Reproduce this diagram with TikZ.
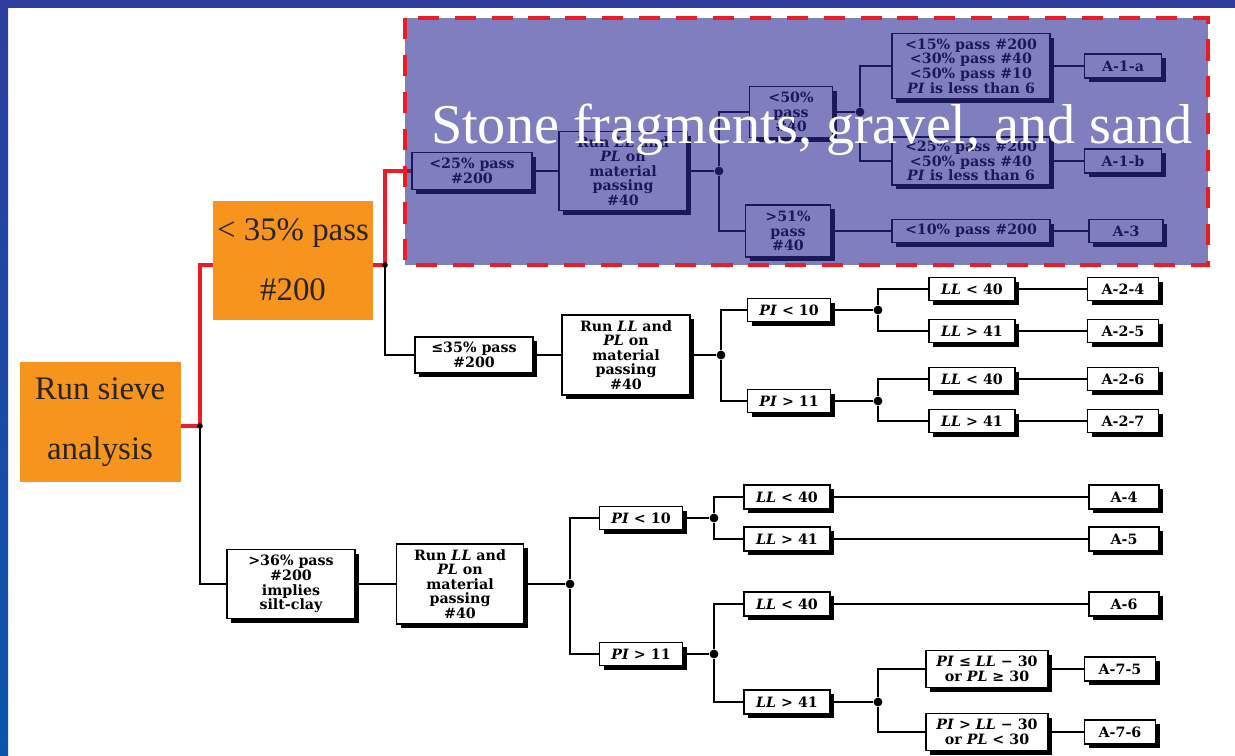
\documentclass[tikz,border=0pt]{standalone}
\usepackage{fontspec}
\setmainfont{Liberation Serif}
\newfontfamily\scanfont{DejaVu Serif}
\usetikzlibrary{positioning,shadows}

\definecolor{slideblue}{RGB}{46,62,158}
\definecolor{slidebluelow}{RGB}{10,85,170}
\definecolor{sieveorange}{RGB}{247,148,29}
\definecolor{routered}{RGB}{237,28,36}
\definecolor{veil}{RGB}{43,43,150}

\tikzset{
  sz/.style 2 args={minimum width=#1*0.02cm, minimum height=#2*0.02cm},
  scanbox/.style={draw=black, line width=1.1pt, fill=white, align=center, inner sep=0pt,
    font=\scanfont\bfseries\fontsize{8.1}{8.3}\selectfont,
    drop shadow={shadow xshift=.08cm, shadow yshift=-.08cm, fill=black, opacity=1}},
  orangebox/.style={fill=sieveorange, text=black!85, align=center, inner sep=0pt,
    font=\fontsize{18.7}{34}\selectfont},
  link/.style={line width=0.8pt},
  redlink/.style={draw=routered, line width=2.4pt},
  knot/.style={circle, fill=black, inner sep=0pt, minimum size=5pt}
}

\begin{document}
\begin{tikzpicture}[x=0.02cm, y=-0.02cm]
  \useasboundingbox (0,0) rectangle (1235,755);
  \fill[white] (0,0) rectangle (1235,755);
  \fill[slideblue] (0,0) rectangle (1235,8);
  \shade[top color=slideblue, bottom color=slidebluelow] (0,0) rectangle (8,755);

  % orange boxes
  \node[orangebox, sz={161}{120}] (sieve) at (100,422) {Run sieve\\analysis};
  \node[orangebox, sz={160}{119}] (coarse) at (293,260) {< 35\% pass\\\#200};
  \coordinate (trunk) at (200,426);
  \coordinate (fork) at (385,265);

  % granular, <25% pass #200
  \node[scanbox, sz={120}{37}] (gA) at (472,171) {<25\% pass\\\#200};
  \node[scanbox, sz={128}{79}] (runA) at (623,171) {Run \textit{LL} and\\\textit{PL} on\\material\\passing\\\#40};
  \node[knot] (jA) at (719,171) {};
  \node[scanbox, sz={83}{51}] (pA1) at (791,112) {<50\%\\pass\\\#40};
  \node[scanbox, sz={85}{52}] (pA2) at (788,231) {>51\%\\pass\\\#40};
  \node[knot] (jB) at (860,112) {};
  \node[scanbox, sz={158}{65}] (dA1) at (971,66) {<15\% pass \#200\\<30\% pass \#40\\<50\% pass \#10\\\textit{PI} is less than 6};
  \node[scanbox, sz={158}{48}] (dA2) at (971,161) {<25\% pass \#200\\<50\% pass \#40\\\textit{PI} is less than 6};
  \node[scanbox, sz={158}{23}] (dA3) at (971,231) {<10\% pass \#200};
  \node[scanbox, sz={77}{24}] (cA1) at (1123,66) {A-1-a};
  \node[scanbox, sz={77}{24}] (cA2) at (1123,161) {A-1-b};
  \node[scanbox, sz={74}{23}] (cA3) at (1126,231) {A-3};

  % granular, <=35% pass #200
  \node[scanbox, sz={118}{36}] (gB) at (474,355) {≤35\% pass\\\#200};
  \node[scanbox, sz={128}{80}] (runB) at (626,355) {Run \textit{LL} and\\\textit{PL} on\\material\\passing\\\#40};
  \node[knot] (jC) at (721,355) {};
  \node[scanbox, sz={83}{23}] (piB1) at (789,310) {\textit{PI} < 10};
  \node[scanbox, sz={83}{23}] (piB2) at (789,401) {\textit{PI} > 11};
  \node[knot] (jD) at (878,310) {};
  \node[knot] (jE) at (878,401) {};
  \node[scanbox, sz={86}{23}] (llB1) at (972,289) {\textit{LL} < 40};
  \node[scanbox, sz={86}{23}] (llB2) at (972,331) {\textit{LL} > 41};
  \node[scanbox, sz={86}{23}] (llB3) at (972,379) {\textit{LL} < 40};
  \node[scanbox, sz={86}{23}] (llB4) at (972,421) {\textit{LL} > 41};
  \node[scanbox, sz={71}{23}] (cB1) at (1123,289) {A-2-4};
  \node[scanbox, sz={71}{23}] (cB2) at (1123,331) {A-2-5};
  \node[scanbox, sz={71}{23}] (cB3) at (1123,379) {A-2-6};
  \node[scanbox, sz={71}{23}] (cB4) at (1123,421) {A-2-7};

  % silt-clay
  \node[scanbox, sz={128}{69}] (sC) at (291,584) {>36\% pass\\\#200\\implies\\silt-clay};
  \node[scanbox, sz={127}{80}] (runC) at (460,584) {Run \textit{LL} and\\\textit{PL} on\\material\\passing\\\#40};
  \node[knot] (jF) at (570,584) {};
  \node[scanbox, sz={83}{23}] (piC1) at (641,518) {\textit{PI} < 10};
  \node[scanbox, sz={83}{23}] (piC2) at (641,654) {\textit{PI} > 11};
  \node[knot] (jG) at (714,518) {};
  \node[knot] (jH) at (714,654) {};
  \node[scanbox, sz={86}{24}] (llC1) at (787,497) {\textit{LL} < 40};
  \node[scanbox, sz={86}{24}] (llC2) at (787,539) {\textit{LL} > 41};
  \node[scanbox, sz={86}{24}] (llC3) at (787,604) {\textit{LL} < 40};
  \node[scanbox, sz={86}{24}] (llC4) at (787,702) {\textit{LL} > 41};
  \node[knot] (jI) at (878,702) {};
  \node[scanbox, sz={122}{37}] (rC1) at (987,669) {\textit{PI} ≤ \textit{LL} − 30\\or \textit{PL} ≥ 30};
  \node[scanbox, sz={122}{37}] (rC2) at (987,732) {\textit{PI} > \textit{LL} − 30\\or \textit{PL} < 30};
  \node[scanbox, sz={70}{24}] (cC1) at (1124,497) {A-4};
  \node[scanbox, sz={70}{24}] (cC2) at (1124,539) {A-5};
  \node[scanbox, sz={70}{24}] (cC3) at (1124,604) {A-6};
  \node[scanbox, sz={71}{24}] (cC4) at (1120,669) {A-7-5};
  \node[scanbox, sz={71}{24}] (cC5) at (1120,732) {A-7-6};

  % connectors
  \draw[link] (trunk |- fork) |- (sC);
  \draw[link] (fork) |- (gB);
  \draw[link] (gA) -- (runA) -- (jA);
  \draw[link] (jA) |- (pA1);
  \draw[link] (jA) |- (pA2);
  \draw[link] (pA1) -- (jB);
  \draw[link] (jB) |- (dA1);
  \draw[link] (jB) |- (dA2);
  \draw[link] (pA2) -- (dA3);
  \draw[link] (dA1) -- (cA1);
  \draw[link] (dA2) -- (cA2);
  \draw[link] (dA3) -- (cA3);
  \draw[link] (gB) -- (runB) -- (jC);
  \draw[link] (jC) |- (piB1);
  \draw[link] (jC) |- (piB2);
  \draw[link] (piB1) -- (jD);
  \draw[link] (piB2) -- (jE);
  \draw[link] (jD) |- (llB1);
  \draw[link] (jD) |- (llB2);
  \draw[link] (jE) |- (llB3);
  \draw[link] (jE) |- (llB4);
  \draw[link] (llB1) -- (cB1);
  \draw[link] (llB2) -- (cB2);
  \draw[link] (llB3) -- (cB3);
  \draw[link] (llB4) -- (cB4);
  \draw[link] (sC) -- (runC) -- (jF);
  \draw[link] (jF) |- (piC1);
  \draw[link] (jF) |- (piC2);
  \draw[link] (piC1) -- (jG);
  \draw[link] (piC2) -- (jH);
  \draw[link] (jG) |- (llC1);
  \draw[link] (jG) |- (llC2);
  \draw[link] (jH) |- (llC3);
  \draw[link] (jH) |- (llC4);
  \draw[link] (llC1) -- (cC1);
  \draw[link] (llC2) -- (cC2);
  \draw[link] (llC3) -- (cC3);
  \draw[link] (llC4) -- (jI);
  \draw[link] (jI) |- (rC1);
  \draw[link] (jI) |- (rC2);
  \draw[link] (rC1) -- (cC4);
  \draw[link] (rC2) -- (cC5);

  % highlighted route
  \draw[redlink] (sieve.east |- trunk) -- (trunk) |- (coarse.west |- fork);
  \draw[redlink] (coarse.east |- fork) -- (fork) |- (gA);
  \fill (trunk) circle (1.6pt);
  \fill (fork) circle (1.6pt);

  % veil over the granular branch
  \fill[veil, fill opacity=0.6] (405,18) rectangle (1208,265);
  \draw[routered, line width=2.3pt, dash pattern=on 12pt off 9pt] (405,18) rectangle (1208,265);
  \node[text=white, anchor=base, inner sep=0pt, font=\fontsize{32}{33}\selectfont] (title) at (812,143) {Stone fragments, gravel, and sand};
\end{tikzpicture}
\end{document}
